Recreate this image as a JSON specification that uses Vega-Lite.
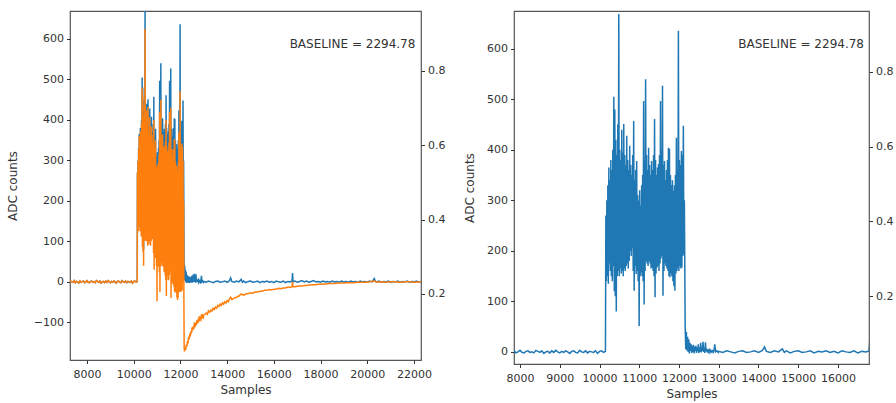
{
  "$schema": "https://vega.github.io/schema/vega-lite/v6.json",
  "padding": {"left": 5, "top": 10, "right": 5, "bottom": 1},
  "config": {
    "font": "DejaVu Sans",
    "view": {"stroke": "#555", "strokeWidth": 1.2},
    "axis": {"domain": false, "grid": false, "tickColor": "#333", "tickSize": 3.5, "labelColor": "#333", "labelFontSize": 11, "titleFontSize": 12, "titleFontWeight": "normal", "titleColor": "#333", "labelFont": "DejaVu Sans", "titleFont": "DejaVu Sans", "labelOverlap": false, "labelFlush": false, "labelBound": false}
  },
  "datasets": {
    "blue": [
      {"x":7200,"v":1},{"x":7250,"v":-2},{"x":7300,"v":2},{"x":7350,"v":0},{"x":7400,"v":-1},{"x":7450,"v":3},{"x":7500,"v":-2},{"x":7550,"v":1},{"x":7600,"v":0},{"x":7650,"v":-3},{"x":7700,"v":2},{"x":7750,"v":-1},{"x":7800,"v":1},{"x":7850,"v":2},{"x":7900,"v":-2},{"x":7950,"v":0},{"x":8000,"v":3},{"x":8050,"v":-1},{"x":8100,"v":-2},{"x":8150,"v":1},{"x":8200,"v":2},{"x":8250,"v":-1},{"x":8300,"v":0},{"x":8350,"v":-2},{"x":8400,"v":3},{"x":8450,"v":1},{"x":8500,"v":-1},{"x":8550,"v":2},{"x":8600,"v":-3},{"x":8650,"v":0},{"x":8700,"v":1},{"x":8750,"v":-2},{"x":8800,"v":2},{"x":8850,"v":-1},{"x":8900,"v":3},{"x":8950,"v":0},{"x":9000,"v":-2},{"x":9050,"v":1},{"x":9100,"v":-1},{"x":9150,"v":2},{"x":9200,"v":0},{"x":9250,"v":-3},{"x":9300,"v":1},{"x":9350,"v":2},{"x":9400,"v":-1},{"x":9450,"v":-2},{"x":9500,"v":3},{"x":9550,"v":0},{"x":9600,"v":-1},{"x":9650,"v":2},{"x":9700,"v":-2},{"x":9750,"v":1},{"x":9800,"v":0},{"x":9850,"v":-1},{"x":9900,"v":2},{"x":9950,"v":-3},{"x":10000,"v":1},{"x":10050,"v":2},{"x":10100,"v":-1},{"x":10150,"v":1},
      {"x":10160,"v":270},{"x":10172.5,"v":140},{"x":10185,"v":300},{"x":10197.5,"v":150},{"x":10210,"v":330},{"x":10222.5,"v":135},{"x":10235,"v":365},{"x":10247.5,"v":175},{"x":10260,"v":340},{"x":10272.5,"v":160},{"x":10285,"v":380},{"x":10297.5,"v":150},{"x":10310,"v":360},{"x":10322.5,"v":140},{"x":10335,"v":400},{"x":10347.5,"v":170},{"x":10360,"v":505},{"x":10372.5,"v":120},{"x":10385,"v":480},{"x":10397.5,"v":110},
      {"x":10410,"v":420},{"x":10422.5,"v":80},{"x":10435,"v":390},{"x":10447.5,"v":150},{"x":10460,"v":450},{"x":10472.5,"v":160},{"x":10485,"v":669},{"x":10497.5,"v":150},{"x":10510,"v":400},{"x":10522.5,"v":165},{"x":10535,"v":380},{"x":10547.5,"v":155},{"x":10560,"v":440},{"x":10572.5,"v":160},{"x":10585,"v":395},{"x":10597.5,"v":150},{"x":10610,"v":451},{"x":10622.5,"v":165},{"x":10635,"v":390},{"x":10647.5,"v":160},
      {"x":10660,"v":370},{"x":10672.5,"v":170},{"x":10685,"v":428},{"x":10697.5,"v":175},{"x":10710,"v":380},{"x":10722.5,"v":165},{"x":10735,"v":360},{"x":10747.5,"v":180},{"x":10760,"v":408},{"x":10772.5,"v":200},{"x":10785,"v":370},{"x":10797.5,"v":190},{"x":10810,"v":350},{"x":10822.5,"v":205},{"x":10835,"v":390},{"x":10847.5,"v":160},{"x":10860,"v":457},{"x":10872.5,"v":121},{"x":10885,"v":340},{"x":10897.5,"v":170},
      {"x":10910,"v":360},{"x":10922.5,"v":154},{"x":10935,"v":378},{"x":10947.5,"v":160},{"x":10960,"v":310},{"x":10972.5,"v":140},{"x":10985,"v":300},{"x":10997.5,"v":51},{"x":11010,"v":320},{"x":11022.5,"v":150},{"x":11035,"v":290},{"x":11047.5,"v":157},{"x":11060,"v":330},{"x":11072.5,"v":150},{"x":11085,"v":350},{"x":11097.5,"v":140},{"x":11110,"v":497},{"x":11122.5,"v":94},{"x":11135,"v":380},{"x":11147.5,"v":160},
      {"x":11160,"v":540},{"x":11172.5,"v":180},{"x":11185,"v":390},{"x":11197.5,"v":175},{"x":11210,"v":360},{"x":11222.5,"v":170},{"x":11235,"v":404},{"x":11247.5,"v":180},{"x":11260,"v":370},{"x":11272.5,"v":175},{"x":11285,"v":350},{"x":11297.5,"v":165},{"x":11310,"v":378},{"x":11322.5,"v":167},{"x":11335,"v":360},{"x":11347.5,"v":160},{"x":11360,"v":390},{"x":11372.5,"v":150},{"x":11385,"v":461},{"x":11397.5,"v":108},
      {"x":11410,"v":380},{"x":11422.5,"v":155},{"x":11435,"v":350},{"x":11447.5,"v":167},{"x":11460,"v":365},{"x":11472.5,"v":170},{"x":11485,"v":372},{"x":11497.5,"v":160},{"x":11510,"v":390},{"x":11522.5,"v":175},{"x":11535,"v":497},{"x":11547.5,"v":185},{"x":11560,"v":400},{"x":11572.5,"v":190},{"x":11585,"v":527},{"x":11597.5,"v":111},{"x":11610,"v":370},{"x":11622.5,"v":160},{"x":11635,"v":378},{"x":11647.5,"v":175},
      {"x":11660,"v":340},{"x":11672.5,"v":170},{"x":11685,"v":360},{"x":11697.5,"v":165},{"x":11710,"v":380},{"x":11722.5,"v":160},{"x":11735,"v":404},{"x":11747.5,"v":150},{"x":11760,"v":402},{"x":11772.5,"v":148},{"x":11785,"v":350},{"x":11797.5,"v":155},{"x":11810,"v":330},{"x":11822.5,"v":150},{"x":11835,"v":340},{"x":11847.5,"v":140},{"x":11860,"v":319},{"x":11872.5,"v":130},{"x":11885,"v":330},{"x":11897.5,"v":121},
      {"x":11910,"v":350},{"x":11922.5,"v":155},{"x":11935,"v":424},{"x":11947.5,"v":160},{"x":11960,"v":360},{"x":11972.5,"v":165},{"x":11985,"v":636},{"x":11997.5,"v":160},{"x":12010,"v":380},{"x":12022.5,"v":170},{"x":12035,"v":370},{"x":12047.5,"v":165},{"x":12060,"v":398},{"x":12072.5,"v":167},{"x":12085,"v":390},{"x":12097.5,"v":190},{"x":12110,"v":448},{"x":12122.5,"v":194},{"x":12135,"v":300},{"x":12147.5,"v":150},
      {"x":12155,"v":50},{"x":12170,"v":5},{"x":12185,"v":40},{"x":12200,"v":3},{"x":12215,"v":30},{"x":12230,"v":0},{"x":12245,"v":25},{"x":12260,"v":-3},{"x":12275,"v":18},{"x":12290,"v":2},{"x":12305,"v":15},{"x":12320,"v":-2},{"x":12335,"v":12},{"x":12350,"v":0},{"x":12365,"v":14},{"x":12380,"v":-3},{"x":12395,"v":10},{"x":12410,"v":2},{"x":12425,"v":12},{"x":12440,"v":-2},{"x":12455,"v":9},{"x":12470,"v":1},{"x":12485,"v":15},{"x":12500,"v":-2},{"x":12515,"v":8},{"x":12530,"v":0},{"x":12545,"v":18},{"x":12560,"v":-1},{"x":12575,"v":10},{"x":12590,"v":2},{"x":12605,"v":20},{"x":12620,"v":0},{"x":12635,"v":8},{"x":12650,"v":-2},{"x":12665,"v":19},{"x":12680,"v":1},{"x":12695,"v":6},{"x":12710,"v":-1},{"x":12725,"v":5},{"x":12740,"v":0},{"x":12760,"v":4},{"x":12780,"v":-1},{"x":12800,"v":3},{"x":12820,"v":0},{"x":12840,"v":2},{"x":12860,"v":-1},{"x":12880,"v":3},{"x":12900,"v":15},{"x":12920,"v":0},{"x":12950,"v":2},{"x":12990,"v":-1},
      {"x":13000,"v":1},{"x":13100,"v":-1},{"x":13200,"v":2},{"x":13300,"v":0},{"x":13400,"v":-2},{"x":13500,"v":1},{"x":13600,"v":2},{"x":13700,"v":-1},{"x":13800,"v":0},{"x":13900,"v":2},{"x":14000,"v":-1},{"x":14100,"v":3},{"x":14150,"v":10},{"x":14200,"v":1},{"x":14300,"v":-1},{"x":14400,"v":2},{"x":14500,"v":0},{"x":14600,"v":6},{"x":14650,"v":-1},{"x":14700,"v":2},{"x":14800,"v":-2},{"x":14900,"v":1},{"x":15000,"v":2},{"x":15100,"v":-1},{"x":15200,"v":0},{"x":15300,"v":2},{"x":15400,"v":-2},{"x":15500,"v":1},{"x":15600,"v":0},{"x":15700,"v":2},{"x":15800,"v":-1},{"x":15900,"v":1},{"x":16000,"v":-2},{"x":16100,"v":2},{"x":16200,"v":0},{"x":16300,"v":-1},{"x":16400,"v":2},{"x":16500,"v":-2},{"x":16600,"v":1},{"x":16700,"v":0},{"x":16780,"v":2},{"x":16800,"v":22},{"x":16820,"v":0},{"x":16900,"v":2},{"x":17000,"v":-1},{"x":17100,"v":1},{"x":17200,"v":3},{"x":17300,"v":0},{"x":17400,"v":2},{"x":17500,"v":-1},{"x":17600,"v":1},{"x":17700,"v":3},{"x":17800,"v":0},{"x":17900,"v":1},{"x":18000,"v":-1},{"x":18100,"v":2},{"x":18200,"v":0},{"x":18300,"v":1},{"x":18400,"v":-1},{"x":18500,"v":2},{"x":18600,"v":0},{"x":18700,"v":1},{"x":18800,"v":-1},{"x":18900,"v":2},{"x":19000,"v":0},{"x":19100,"v":1},{"x":19200,"v":-1},{"x":19300,"v":2},{"x":19400,"v":0},{"x":19500,"v":1},{"x":19600,"v":-1},{"x":19700,"v":2},{"x":19800,"v":0},{"x":19900,"v":1},{"x":20000,"v":-1},{"x":20100,"v":2},{"x":20200,"v":0},{"x":20300,"v":8},{"x":20350,"v":1},{"x":20400,"v":0},{"x":20500,"v":2},{"x":20600,"v":-1},{"x":20700,"v":1},{"x":20800,"v":0},{"x":20900,"v":2},{"x":21000,"v":-1},{"x":21100,"v":1},{"x":21200,"v":0},{"x":21300,"v":2},{"x":21400,"v":-1},{"x":21500,"v":1},{"x":21600,"v":0},{"x":21700,"v":2},{"x":21800,"v":-1},{"x":21900,"v":1},{"x":22000,"v":0},{"x":22100,"v":2},{"x":22200,"v":-1},{"x":22300,"v":1}
    ],
    "orange": [
      {"x":7200,"v":1},{"x":7250,"v":-2},{"x":7300,"v":2},{"x":7350,"v":0},{"x":7400,"v":-1},{"x":7450,"v":3},{"x":7500,"v":-2},{"x":7550,"v":1},{"x":7600,"v":0},{"x":7650,"v":-3},{"x":7700,"v":2},{"x":7750,"v":-1},{"x":7800,"v":1},{"x":7850,"v":2},{"x":7900,"v":-2},{"x":7950,"v":0},{"x":8000,"v":3},{"x":8050,"v":-1},{"x":8100,"v":-2},{"x":8150,"v":1},{"x":8200,"v":2},{"x":8250,"v":-1},{"x":8300,"v":0},{"x":8350,"v":-2},{"x":8400,"v":3},{"x":8450,"v":1},{"x":8500,"v":-1},{"x":8550,"v":2},{"x":8600,"v":-3},{"x":8650,"v":0},{"x":8700,"v":1},{"x":8750,"v":-2},{"x":8800,"v":2},{"x":8850,"v":-1},{"x":8900,"v":3},{"x":8950,"v":0},{"x":9000,"v":-2},{"x":9050,"v":1},{"x":9100,"v":-1},{"x":9150,"v":2},{"x":9200,"v":0},{"x":9250,"v":-3},{"x":9300,"v":1},{"x":9350,"v":2},{"x":9400,"v":-1},{"x":9450,"v":-2},{"x":9500,"v":3},{"x":9550,"v":0},{"x":9600,"v":-1},{"x":9650,"v":2},{"x":9700,"v":-2},{"x":9750,"v":1},{"x":9800,"v":0},{"x":9850,"v":-1},{"x":9900,"v":2},{"x":9950,"v":-3},{"x":10000,"v":1},{"x":10050,"v":2},{"x":10100,"v":-1},{"x":10150,"v":1},
      {"x":10160,"v":270},{"x":10172.5,"v":140},{"x":10185,"v":298},{"x":10197.5,"v":145},{"x":10210,"v":327},{"x":10222.5,"v":125},{"x":10235,"v":360},{"x":10247.5,"v":160},{"x":10260,"v":334},{"x":10272.5,"v":140},{"x":10285,"v":372},{"x":10297.5,"v":125},{"x":10310,"v":352},{"x":10322.5,"v":112},{"x":10335,"v":391},{"x":10347.5,"v":139},{"x":10360,"v":480},{"x":10372.5,"v":86},{"x":10385,"v":460},{"x":10397.5,"v":73},
      {"x":10410,"v":408},{"x":10422.5,"v":40},{"x":10435,"v":377},{"x":10447.5,"v":107},{"x":10460,"v":436},{"x":10472.5,"v":114},{"x":10485,"v":625},{"x":10497.5,"v":101},{"x":10510,"v":384},{"x":10522.5,"v":113},{"x":10535,"v":364},{"x":10547.5,"v":100},{"x":10560,"v":423},{"x":10572.5,"v":102},{"x":10585,"v":377},{"x":10597.5,"v":89},{"x":10610,"v":432},{"x":10622.5,"v":101},{"x":10635,"v":370},{"x":10647.5,"v":93},
      {"x":10660,"v":349},{"x":10672.5,"v":100},{"x":10685,"v":406},{"x":10697.5,"v":102},{"x":10710,"v":357},{"x":10722.5,"v":89},{"x":10735,"v":336},{"x":10747.5,"v":101},{"x":10760,"v":383},{"x":10772.5,"v":118},{"x":10785,"v":345},{"x":10797.5,"v":105},{"x":10810,"v":324},{"x":10822.5,"v":118},{"x":10835,"v":363},{"x":10847.5,"v":71},{"x":10860,"v":400},{"x":10872.5,"v":30},{"x":10885,"v":312},{"x":10897.5,"v":77},
      {"x":10910,"v":332},{"x":10922.5,"v":59},{"x":10935,"v":349},{"x":10947.5,"v":62},{"x":10960,"v":280},{"x":10972.5,"v":39},{"x":10985,"v":269},{"x":10997.5,"v":-48},{"x":11010,"v":288},{"x":11022.5,"v":43},{"x":11035,"v":257},{"x":11047.5,"v":47},{"x":11060,"v":296},{"x":11072.5,"v":37},{"x":11085,"v":315},{"x":11097.5,"v":24},{"x":11110,"v":420},{"x":11122.5,"v":-25},{"x":11135,"v":343},{"x":11147.5,"v":38},
      {"x":11160,"v":450},{"x":11172.5,"v":55},{"x":11185,"v":352},{"x":11197.5,"v":47},{"x":11210,"v":321},{"x":11222.5,"v":39},{"x":11235,"v":364},{"x":11247.5,"v":46},{"x":11260,"v":329},{"x":11272.5,"v":38},{"x":11285,"v":308},{"x":11297.5,"v":25},{"x":11310,"v":335},{"x":11322.5,"v":25},{"x":11335,"v":317},{"x":11347.5,"v":16},{"x":11360,"v":346},{"x":11372.5,"v":4},{"x":11385,"v":400},{"x":11397.5,"v":-35},
      {"x":11410,"v":335},{"x":11422.5,"v":5},{"x":11435,"v":304},{"x":11447.5,"v":15},{"x":11460,"v":319},{"x":11472.5,"v":16},{"x":11485,"v":325},{"x":11497.5,"v":4},{"x":11510,"v":343},{"x":11522.5,"v":17},{"x":11535,"v":420},{"x":11547.5,"v":25},{"x":11560,"v":351},{"x":11572.5,"v":28},{"x":11585,"v":430},{"x":11597.5,"v":-40},{"x":11610,"v":320},{"x":11622.5,"v":-6},{"x":11635,"v":328},{"x":11647.5,"v":7},
      {"x":11660,"v":289},{"x":11672.5,"v":0},{"x":11685,"v":309},{"x":11697.5,"v":-6},{"x":11710,"v":328},{"x":11722.5,"v":-12},{"x":11735,"v":352},{"x":11747.5,"v":-23},{"x":11760,"v":350},{"x":11772.5,"v":-26},{"x":11785,"v":297},{"x":11797.5,"v":-20},{"x":11810,"v":277},{"x":11822.5,"v":-26},{"x":11835,"v":287},{"x":11847.5,"v":-38},{"x":11860,"v":265},{"x":11872.5,"v":-45},{"x":11885,"v":276},{"x":11897.5,"v":-40},
      {"x":11910,"v":295},{"x":11922.5,"v":-27},{"x":11935,"v":369},{"x":11947.5,"v":-23},{"x":11960,"v":305},{"x":11972.5,"v":-19},{"x":11985,"v":471},{"x":11997.5,"v":-25},{"x":12010,"v":324},{"x":12022.5,"v":-16},{"x":12035,"v":314},{"x":12047.5,"v":-23},{"x":12060,"v":342},{"x":12072.5,"v":-21},{"x":12085,"v":333},{"x":12097.5,"v":1},{"x":12110,"v":300},{"x":12122.5,"v":5},{"x":12135,"v":200},{"x":12147.5,"v":-40},
      {"x":12160,"v":-165},{"x":12175,"v":-172},{"x":12200,"v":-163},{"x":12225,"v":-168},{"x":12250,"v":-155},{"x":12275,"v":-160},{"x":12300,"v":-146},{"x":12325,"v":-152},{"x":12350,"v":-136},{"x":12375,"v":-142},{"x":12400,"v":-128},{"x":12425,"v":-135},{"x":12450,"v":-122},{"x":12475,"v":-127},{"x":12500,"v":-112},{"x":12525,"v":-120},{"x":12550,"v":-110},{"x":12575,"v":-116},{"x":12600,"v":-100},{"x":12625,"v":-112},{"x":12650,"v":-102},{"x":12675,"v":-107},{"x":12700,"v":-95},{"x":12725,"v":-103},{"x":12750,"v":-96},{"x":12775,"v":-100},{"x":12800,"v":-85},{"x":12825,"v":-96},{"x":12850,"v":-90},{"x":12875,"v":-93},{"x":12900,"v":-80},{"x":12925,"v":-90},{"x":12950,"v":-84},{"x":12975,"v":-88},
      {"x":13000,"v":-82},{"x":13050,"v":-80},{"x":13100,"v":-77},{"x":13150,"v":-80},{"x":13200,"v":-72},{"x":13250,"v":-75},{"x":13300,"v":-70},{"x":13350,"v":-72},{"x":13400,"v":-65},{"x":13450,"v":-68},{"x":13500,"v":-62},{"x":13550,"v":-65},{"x":13600,"v":-58},{"x":13650,"v":-61},{"x":13700,"v":-55},{"x":13750,"v":-58},{"x":13800,"v":-52},{"x":13850,"v":-55},{"x":13900,"v":-49},{"x":13950,"v":-52},{"x":14000,"v":-46},{"x":14050,"v":-49},{"x":14100,"v":-42},{"x":14150,"v":-38},{"x":14200,"v":-44},{"x":14300,"v":-40},{"x":14400,"v":-38},{"x":14500,"v":-35},{"x":14600,"v":-30},{"x":14700,"v":-33},{"x":14800,"v":-30},{"x":14900,"v":-29},{"x":15000,"v":-27},{"x":15100,"v":-28},{"x":15200,"v":-25},{"x":15300,"v":-25},{"x":15400,"v":-23},{"x":15500,"v":-23},{"x":15600,"v":-21},{"x":15700,"v":-21},{"x":15800,"v":-19},{"x":15900,"v":-20},{"x":16000,"v":-18},{"x":16100,"v":-18},{"x":16200,"v":-16},{"x":16300,"v":-17},{"x":16400,"v":-15},{"x":16500,"v":-15},{"x":16600,"v":-13},{"x":16700,"v":-14},{"x":16780,"v":-12},{"x":16800,"v":0},{"x":16820,"v":-12},{"x":16900,"v":-12},{"x":17000,"v":-11},{"x":17100,"v":-10},{"x":17200,"v":-10},{"x":17300,"v":-9},{"x":17400,"v":-9},{"x":17500,"v":-8},{"x":17600,"v":-8},{"x":17700,"v":-7},{"x":17800,"v":-7},{"x":17900,"v":-6},{"x":18000,"v":-6},{"x":18200,"v":-5},{"x":18400,"v":-4},{"x":18600,"v":-4},{"x":18800,"v":-3},{"x":19000,"v":-3},{"x":19200,"v":-2},{"x":19400,"v":-2},{"x":19600,"v":-1},{"x":19800,"v":-1},{"x":20000,"v":-1},{"x":20300,"v":2},{"x":20400,"v":-1},{"x":20600,"v":0},{"x":20800,"v":-1},{"x":21000,"v":0},{"x":21200,"v":0},{"x":21400,"v":-1},{"x":21600,"v":0},{"x":21800,"v":0},{"x":22000,"v":-1},{"x":22300,"v":0}
    ],
    "annLeft": [{"x": 22059, "v": 588, "label": "BASELINE = 2294.78"}],
    "annRight": [{"x": 16654, "v": 610, "label": "BASELINE = 2294.78"}],
    "twin": [{"t": 0.2}, {"t": 0.8}]
  },
  "hconcat": [
    {
      "width": 351,
      "height": 349,
      "layer": [
        {
          "layer": [
            {
              "data": {"name": "blue"},
              "mark": {"type": "line", "color": "#1f77b4", "strokeWidth": 1.5, "clip": true},
              "encoding": {
                "x": {"field": "x", "type": "quantitative", "scale": {"domain": [7271, 22300], "nice": false, "zero": false}, "axis": {"values": [8000, 10000, 12000, 14000, 16000, 18000, 20000, 22000], "format": "d", "title": "Samples", "labelPadding": 5, "titlePadding": 5}},
                "y": {"field": "v", "type": "quantitative", "scale": {"domain": [-193, 669], "nice": false, "zero": false}, "axis": {"values": [-100, 0, 100, 200, 300, 400, 500, 600], "format": "d", "title": "ADC counts", "labelPadding": 3, "titlePadding": 14}}
              }
            },
            {
              "data": {"name": "orange"},
              "mark": {"type": "line", "color": "#ff7f0e", "strokeWidth": 1.5, "clip": true},
              "encoding": {
                "x": {"field": "x", "type": "quantitative"},
                "y": {"field": "v", "type": "quantitative"}
              }
            },
            {
              "data": {"name": "annLeft"},
              "mark": {"type": "text", "align": "right", "baseline": "middle", "fontSize": 12, "color": "#333", "font": "DejaVu Sans"},
              "encoding": {
                "x": {"field": "x", "type": "quantitative"},
                "y": {"field": "v", "type": "quantitative"},
                "text": {"field": "label"}
              }
            }
          ]
        },
        {
          "data": {"name": "twin"},
          "mark": {"type": "point", "opacity": 0},
          "encoding": {
            "y": {"field": "t", "type": "quantitative", "scale": {"domain": [0.022, 0.961], "nice": false, "zero": false}, "axis": {"orient": "right", "values": [0.2, 0.4, 0.6, 0.8], "format": ".1f", "title": null, "labelPadding": 3}}
          }
        }
      ],
      "resolve": {"scale": {"y": "independent"}}
    },
    {
      "width": 355,
      "height": 353,
      "layer": [
        {
          "layer": [
            {
              "data": {"name": "blue"},
              "mark": {"type": "line", "color": "#1f77b4", "strokeWidth": 1.5, "clip": true},
              "encoding": {
                "x": {"field": "x", "type": "quantitative", "scale": {"domain": [7849, 16780], "nice": false, "zero": false}, "axis": {"values": [8000, 9000, 10000, 11000, 12000, 13000, 14000, 15000, 16000], "format": "d", "title": "Samples", "labelPadding": 5, "titlePadding": 5}},
                "y": {"field": "v", "type": "quantitative", "scale": {"domain": [-24, 675], "nice": false, "zero": false}, "axis": {"values": [0, 100, 200, 300, 400, 500, 600], "format": "d", "title": "ADC counts", "labelPadding": 3, "titlePadding": 10}}
              }
            },
            {
              "data": {"name": "annRight"},
              "mark": {"type": "text", "align": "right", "baseline": "middle", "fontSize": 12, "color": "#333", "font": "DejaVu Sans"},
              "encoding": {
                "x": {"field": "x", "type": "quantitative"},
                "y": {"field": "v", "type": "quantitative"},
                "text": {"field": "label"}
              }
            }
          ]
        },
        {
          "data": {"name": "twin"},
          "mark": {"type": "point", "opacity": 0},
          "encoding": {
            "y": {"field": "t", "type": "quantitative", "scale": {"domain": [0.018, 0.963], "nice": false, "zero": false}, "axis": {"orient": "right", "values": [0.2, 0.4, 0.6, 0.8], "format": ".1f", "title": null, "labelPadding": 3}}
          }
        }
      ],
      "resolve": {"scale": {"y": "independent"}}
    }
  ],
  "bounds": "flush",
  "spacing": 93
}
